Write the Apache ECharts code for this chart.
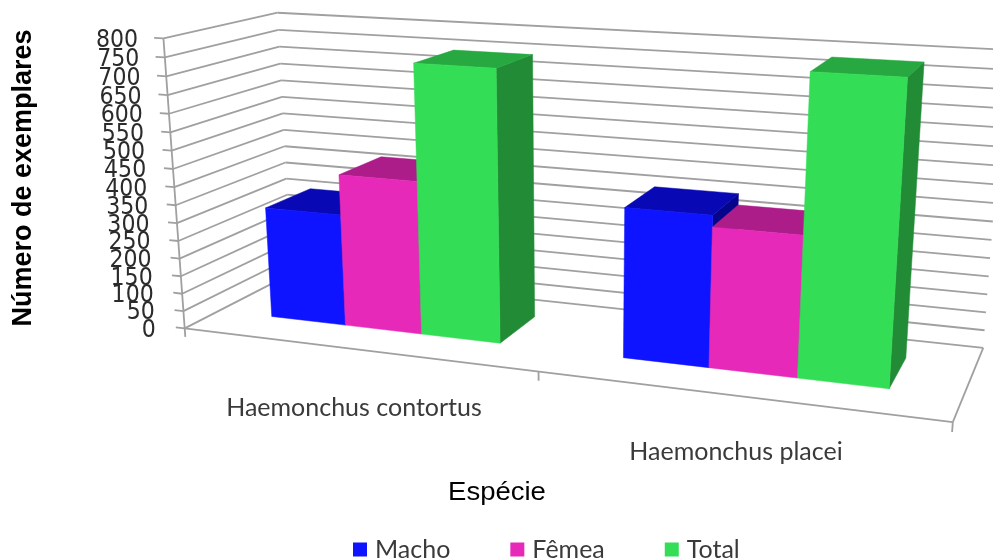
<!DOCTYPE html>
<html>
<head>
<meta charset="utf-8">
<style>html,body{margin:0;padding:0;background:#fff}#chart{width:993px;height:559px}</style>
<script src="https://cdn.jsdelivr.net/npm/echarts@6/dist/echarts.min.js"></script>
</head>
<body>
<div id="chart"></div>
<script>
// Chart data
const categories = ['Haemonchus contortus', 'Haemonchus placei'];
const machoValues = [316, 406];
const femeaValues = [428, 375];
const totalValues = [744, 781];
const valueTicks = [0, 50, 100, 150, 200, 250, 300, 350, 400, 450, 500, 550, 600, 650, 700, 750, 800];

// Depth range occupied by the bars, their width in category units and the group shift
const barDepth = [0.305, 0.735];
const barWidth = 0.222;
const groupShift = -0.006;
const colors = {
  Macho: { front: '#0e14ff', top: '#0808b4', side: '#05058c' },
  'Fêmea': { front: '#e629b8', top: '#ac1d8a', side: '#8a1670' },
  Total: { front: '#33dd55', top: '#27a840', side: '#228b36' }
};

// Corners of the plot box on screen: [u, v, w] -> [px, py]
const anchors = [
  [[0, 0, 0], [184, 327]], [[1, 0, 0], [953, 423]], [[1, 0, 1], [983, 347]], [[0, 0, 1], [292, 275]],
  [[0, 1, 0], [164, 39]], [[0, 1, 1], [277, 12]], [[1, 1, 1], [1006, 50]]
];

// Least-squares fit of a 3x4 projective camera to the box corners
function fitCamera(pairs) {
  const rows = [], rhs = [];
  pairs.forEach(([[x, y, z], [px, py]]) => {
    rows.push([x, y, z, 1, 0, 0, 0, 0, -px * x, -px * y, -px * z]); rhs.push(px);
    rows.push([0, 0, 0, 0, x, y, z, 1, -py * x, -py * y, -py * z]); rhs.push(py);
  });
  const n = 11, M = [];
  for (let i = 0; i < n; i++) {
    M.push(new Array(n + 1).fill(0));
    for (let j = 0; j < n; j++) rows.forEach(r => { M[i][j] += r[i] * r[j]; });
    rows.forEach((r, k) => { M[i][n] += r[i] * rhs[k]; });
  }
  for (let c = 0; c < n; c++) {
    let p = c;
    for (let r = c + 1; r < n; r++) if (Math.abs(M[r][c]) > Math.abs(M[p][c])) p = r;
    [M[c], M[p]] = [M[p], M[c]];
    for (let r = 0; r < n; r++) {
      if (r === c) continue;
      const f = M[r][c] / M[c][c];
      for (let j = c; j <= n; j++) M[r][j] -= f * M[c][j];
    }
  }
  return M.map((row, i) => row[n] / row[i]);
}
const cam = fitCamera(anchors);
function project(u, v, w) {
  const d = cam[8] * u + cam[9] * v + cam[10] * w + 1;
  return [(cam[0] * u + cam[1] * v + cam[2] * w + cam[3]) / d,
          (cam[4] * u + cam[5] * v + cam[6] * w + cam[7]) / d];
}

const W = 993, H = 559;
// Data position -> box position -> screen, going through the cartesian scales
function place(api, xVal, yVal, depth) {
  const p = api.coord([xVal, yVal]);
  return project(p[0] / W, 1 - p[1] / H, depth);
}
function quad(points, fill) {
  return { type: 'polygon', shape: { points }, style: { fill, stroke: fill, lineWidth: 0.5 } };
}
function seg(a, b, stroke, lineWidth) {
  return { type: 'line', shape: { x1: a[0], y1: a[1], x2: b[0], y2: b[1] }, style: { stroke, lineWidth } };
}

function renderBar(name, offset) {
  return function (params, api) {
    const c = colors[name];
    const x0 = api.value(0) + groupShift + offset * barWidth - barWidth / 2;
    const x1 = x0 + barWidth;
    const y = api.value(1);
    const [zf, zb] = barDepth;
    const flb = place(api, x0, 0, zf), frb = place(api, x1, 0, zf), brb = place(api, x1, 0, zb);
    const flt = place(api, x0, y, zf), frt = place(api, x1, y, zf), brt = place(api, x1, y, zb), blt = place(api, x0, y, zb);
    return {
      type: 'group',
      children: [
        quad([frb, brb, brt, frt], c.side),
        quad([flt, frt, brt, blt], c.top),
        quad([flb, frb, frt, flt], c.front)
      ]
    };
  };
}

const gridColor = '#a0a0a0';
const gridWidth = 1.8;
// Wall lines, tick and label for one value of the axis
function renderFrame(params, api) {
  const v = api.value(0);
  const back0 = place(api, 0, v, 1), back1 = place(api, 2, v, 1), front = place(api, 0, v, 0);
  const tick = place(api, -0.027, v, 0);
  return {
    type: 'group',
    children: [
      seg(front, back0, gridColor, gridWidth),
      seg(back0, back1, gridColor, gridWidth),
      seg(front, tick, gridColor, gridWidth),
      { type: 'text', x: tick[0] - 20 + 4 * v / 800, y: tick[1] + 3, scaleX: 0.92,
        style: { text: String(v), align: 'right', verticalAlign: 'middle', font: '24px "DejaVu Sans"', fill: '#2b2b2b' } }
    ]
  };
}
// Floor edges, the vertical axis and the category ticks
function renderFloor(params, api) {
  const a = place(api, 0, 0, 0), b = place(api, 2, 0, 0), c = place(api, 2, 0, 1);
  const top = place(api, 0, 800, 0);
  const drop = 25;
  return {
    type: 'group',
    children: [
      seg(a, b, gridColor, gridWidth), seg(b, c, gridColor, gridWidth), seg(top, place(api, 0, -drop, 0), gridColor, gridWidth),
      seg(place(api, 1, 0, 0), place(api, 1, -drop, 0), gridColor, gridWidth),
      seg(b, place(api, 2, -drop, 0), gridColor, gridWidth)
    ]
  };
}

function barSeries(name, values, offset) {
  return {
    name, type: 'custom', renderItem: renderBar(name, offset),
    itemStyle: { color: colors[name].front },
    encode: { x: 0, y: 1 },
    data: values.map((v, i) => [i + 0.5, v]),
    clip: false, z: 3
  };
}

const chart = echarts.init(document.getElementById('chart'), null, { renderer: 'canvas' });
chart.setOption({
  animation: false,
  backgroundColor: '#ffffff',
  grid: { left: 0, right: 0, top: 0, bottom: 0 },
  xAxis: { type: 'value', min: 0, max: 2, show: false },
  yAxis: { type: 'value', min: 0, max: 800, show: false },
  legend: {
    left: 353, top: 537, padding: 0, itemWidth: 14, itemHeight: 14, itemGap: 60, icon: 'rect',
    data: ['Macho', 'Fêmea', 'Total'],
    textStyle: { fontFamily: 'Lato', fontSize: 25, color: '#3a3a3a', padding: [0, 0, 0, 3] }
  },
  graphic: [
    { type: 'text', x: 24, y: 178, rotation: Math.PI / 2, style: { text: 'Número de exemplares', align: 'center', verticalAlign: 'middle',
      font: 'bold 27px "Liberation Sans"', fill: '#000' } },
    { type: 'text', x: 497, y: 493, scaleX: 1.1, style: { text: 'Espécie', align: 'center', verticalAlign: 'middle',
      font: '25px "Liberation Sans"', fill: '#000' } },
    { type: 'text', x: 354, y: 408, style: { text: categories[0], align: 'center', verticalAlign: 'middle',
      font: '25px "Lato"', fill: '#3a3a3a' } },
    { type: 'text', x: 736, y: 452, style: { text: categories[1], align: 'center', verticalAlign: 'middle',
      font: '25px "Lato"', fill: '#3a3a3a' } }
  ],
  series: [
    { type: 'custom', renderItem: renderFrame, data: valueTicks.map(v => [v]), encode: { y: 0 }, silent: true, clip: false, z: 1 },
    { type: 'custom', renderItem: renderFloor, data: [[0]], encode: { y: 0 }, silent: true, clip: false, z: 1 },
    barSeries('Macho', machoValues, -1),
    barSeries('Fêmea', femeaValues, 0),
    barSeries('Total', totalValues, 1)
  ]
});
</script>
</body>
</html>
